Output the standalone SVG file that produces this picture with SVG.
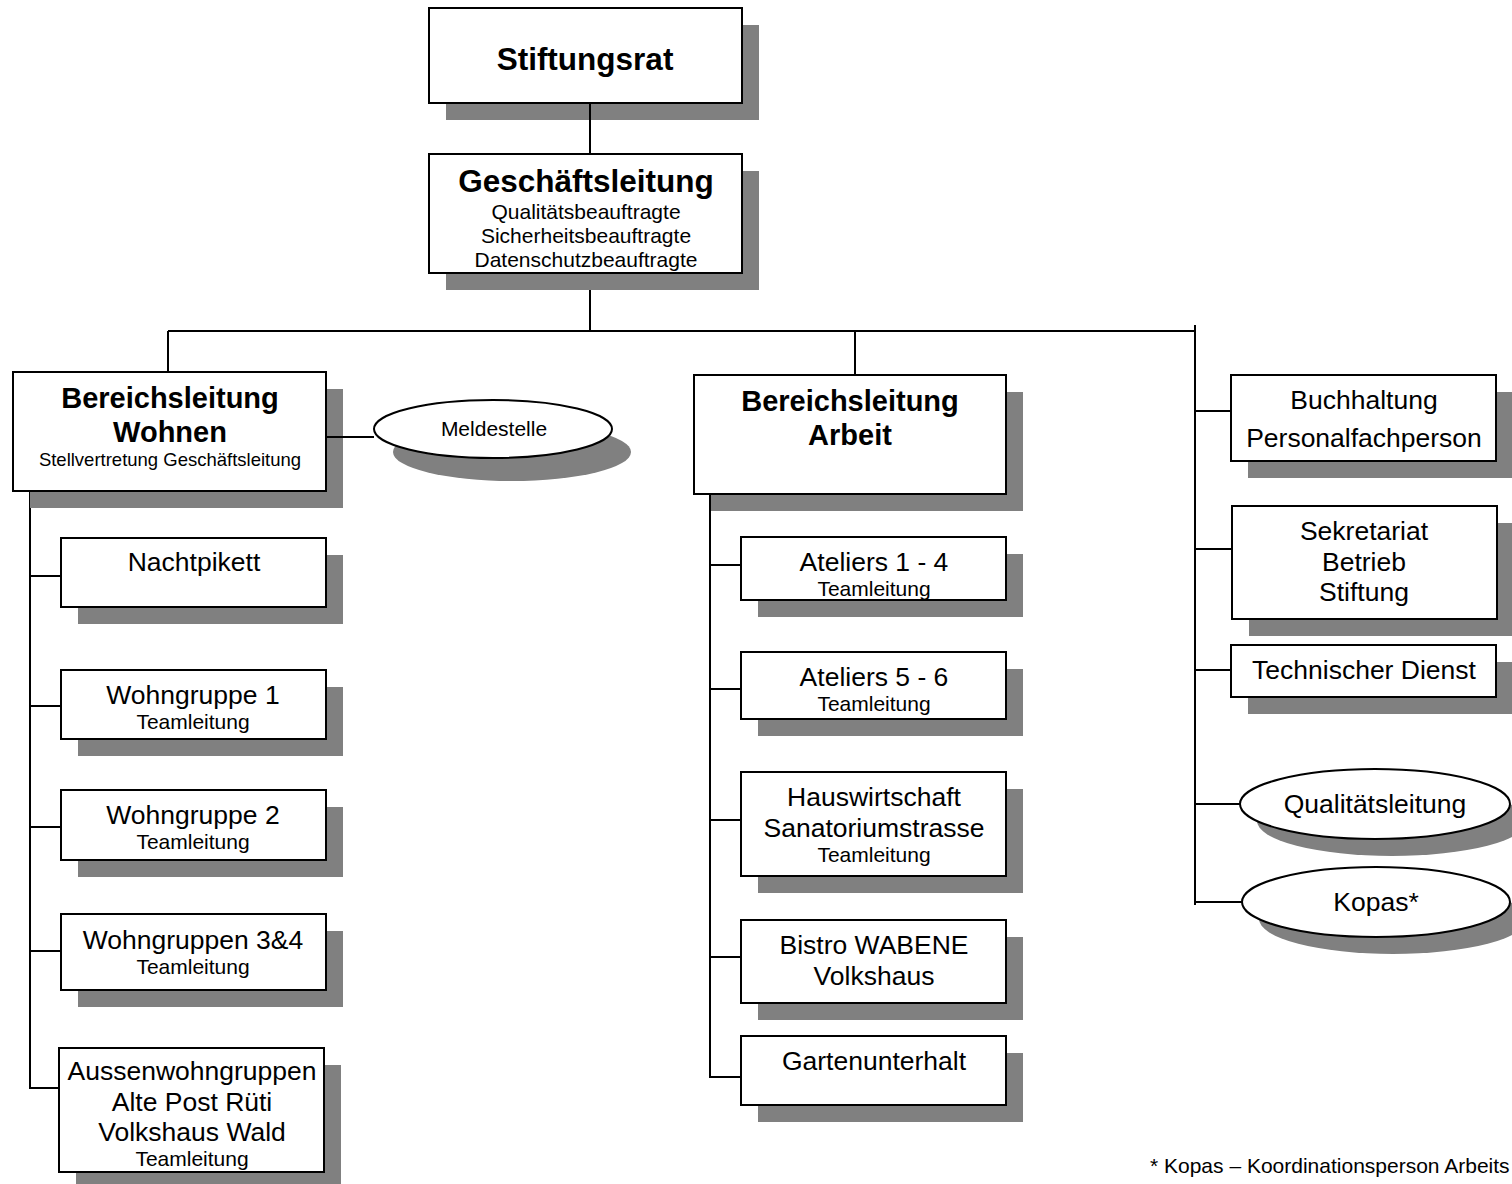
<svg xmlns="http://www.w3.org/2000/svg" width="1512" height="1184" viewBox="0 0 1512 1184">
<style>
.box{fill:#fff;stroke:#000;stroke-width:2}
.sh{fill:#808080}
.ln{stroke:#000;stroke-width:2;fill:none}
text{font-family:"Liberation Sans",Arial,sans-serif;fill:#000;text-anchor:middle}
.b32{font-size:31.5px;font-weight:bold}
.b29{font-size:29px;font-weight:bold}
.t26{font-size:26.5px}
.t21{font-size:21px}
.t18{font-size:18.5px}
</style>
<rect width="1512" height="1184" fill="#fff"/>
<g id="connectors">
<path class="ln" d="M590 273V331M168 331H1195M168 331V372M855 331V375M1195 325V905"/>
<path class="ln" d="M30 491V1088H59M30 576H61M30 706H61M30 827H61M30 951H61"/>
<path class="ln" d="M710 494V1077H741M710 565H741M710 689H741M710 820H741M710 957H741"/>
<path class="ln" d="M1195 411H1231M1195 549H1232M1195 670H1231M1195 804H1240M1195 902H1242"/>
</g>
<g id="stiftungsrat">
<rect class="sh" x="446" y="25" width="313" height="95"/>
<rect class="box" x="429" y="8" width="313" height="95"/>
<text class="b32" x="585" y="70">Stiftungsrat</text>
</g>
<g id="geschaeftsleitung">
<rect class="sh" x="446" y="171" width="313" height="119"/>
<rect class="box" x="429" y="154" width="313" height="119"/>
<text class="b32" x="586" y="192">Geschäftsleitung</text>
<text class="t21" x="586" y="219">Qualitätsbeauftragte</text>
<text class="t21" x="586" y="243">Sicherheitsbeauftragte</text>
<text class="t21" x="586" y="267">Datenschutzbeauftragte</text>
</g>
<g id="bl-wohnen">
<rect class="sh" x="30" y="389" width="313" height="119"/>
<rect class="box" x="13" y="372" width="313" height="119"/>
<text class="b29" x="170" y="408">Bereichsleitung</text>
<text class="b29" x="170" y="442">Wohnen</text>
<text class="t18" x="170" y="466">Stellvertretung Geschäftsleitung</text>
</g>
<g id="meldestelle">
<ellipse class="sh" cx="512" cy="452" rx="119" ry="29"/>
<ellipse class="box" cx="493" cy="429" rx="119" ry="29"/>
<text class="t21" x="494" y="436">Meldestelle</text>
</g>
<g id="nachtpikett">
<rect class="sh" x="78" y="555" width="265" height="69"/>
<rect class="box" x="61" y="538" width="265" height="69"/>
<text class="t26" x="194" y="571">Nachtpikett</text>
</g>
<g id="wohngruppe1">
<rect class="sh" x="78" y="687" width="265" height="69"/>
<rect class="box" x="61" y="670" width="265" height="69"/>
<text class="t26" x="193" y="704">Wohngruppe 1</text>
<text class="t21" x="193" y="729">Teamleitung</text>
</g>
<g id="wohngruppe2">
<rect class="sh" x="78" y="807" width="265" height="70"/>
<rect class="box" x="61" y="790" width="265" height="70"/>
<text class="t26" x="193" y="824">Wohngruppe 2</text>
<text class="t21" x="193" y="849">Teamleitung</text>
</g>
<g id="wohngruppen34">
<rect class="sh" x="78" y="931" width="265" height="76"/>
<rect class="box" x="61" y="914" width="265" height="76"/>
<text class="t26" x="193" y="949">Wohngruppen 3&amp;4</text>
<text class="t21" x="193" y="974">Teamleitung</text>
</g>
<g id="aussenwohngruppen">
<rect class="sh" x="76" y="1065" width="265" height="124"/>
<rect class="box" x="59" y="1048" width="265" height="124"/>
<text class="t26" x="192" y="1080">Aussenwohngruppen</text>
<text class="t26" x="192" y="1111">Alte Post Rüti</text>
<text class="t26" x="192" y="1141">Volkshaus Wald</text>
<text class="t21" x="192" y="1166">Teamleitung</text>
</g>
<g id="bl-arbeit">
<rect class="sh" x="711" y="392" width="312" height="119"/>
<rect class="box" x="694" y="375" width="312" height="119"/>
<text class="b29" x="850" y="411">Bereichsleitung</text>
<text class="b29" x="850" y="445">Arbeit</text>
</g>
<g id="ateliers14">
<rect class="sh" x="758" y="554" width="265" height="63"/>
<rect class="box" x="741" y="537" width="265" height="63"/>
<text class="t26" x="874" y="571">Ateliers 1 - 4</text>
<text class="t21" x="874" y="596">Teamleitung</text>
</g>
<g id="ateliers56">
<rect class="sh" x="758" y="669" width="265" height="67"/>
<rect class="box" x="741" y="652" width="265" height="67"/>
<text class="t26" x="874" y="686">Ateliers 5 - 6</text>
<text class="t21" x="874" y="711">Teamleitung</text>
</g>
<g id="hauswirtschaft">
<rect class="sh" x="758" y="789" width="265" height="104"/>
<rect class="box" x="741" y="772" width="265" height="104"/>
<text class="t26" x="874" y="806">Hauswirtschaft</text>
<text class="t26" x="874" y="837">Sanatoriumstrasse</text>
<text class="t21" x="874" y="862">Teamleitung</text>
</g>
<g id="bistro">
<rect class="sh" x="758" y="937" width="265" height="83"/>
<rect class="box" x="741" y="920" width="265" height="83"/>
<text class="t26" x="874" y="954">Bistro WABENE</text>
<text class="t26" x="874" y="985">Volkshaus</text>
</g>
<g id="gartenunterhalt">
<rect class="sh" x="758" y="1053" width="265" height="69"/>
<rect class="box" x="741" y="1036" width="265" height="69"/>
<text class="t26" x="874" y="1070">Gartenunterhalt</text>
</g>
<g id="buchhaltung">
<rect class="sh" x="1248" y="392" width="265" height="86"/>
<rect class="box" x="1231" y="375" width="265" height="86"/>
<text class="t26" x="1364" y="409">Buchhaltung</text>
<text class="t26" x="1364" y="447">Personalfachperson</text>
</g>
<g id="sekretariat">
<rect class="sh" x="1249" y="523" width="265" height="113"/>
<rect class="box" x="1232" y="506" width="265" height="113"/>
<text class="t26" x="1364" y="540">Sekretariat</text>
<text class="t26" x="1364" y="571">Betrieb</text>
<text class="t26" x="1364" y="601">Stiftung</text>
</g>
<g id="techdienst">
<rect class="sh" x="1248" y="662" width="265" height="52"/>
<rect class="box" x="1231" y="645" width="265" height="52"/>
<text class="t26" x="1364" y="679">Technischer Dienst</text>
</g>
<g id="qualitaetsleitung">
<ellipse class="sh" cx="1392" cy="821" rx="135" ry="35"/>
<ellipse class="box" cx="1375" cy="804" rx="135" ry="35"/>
<text class="t26" x="1375" y="813">Qualitätsleitung</text>
</g>
<g id="kopas">
<ellipse class="sh" cx="1393" cy="919" rx="134" ry="35"/>
<ellipse class="box" cx="1376" cy="902" rx="134" ry="35"/>
<text class="t26" x="1376" y="911">Kopas*</text>
</g>
<g id="connectors-top">
<path class="ln" d="M590 103V154"/>
<path class="ln" d="M327 437H374"/>
</g>
<text x="1150" y="1173" style="font-size:21px;text-anchor:start">* Kopas – Koordinationsperson Arbeits</text>
</svg>
